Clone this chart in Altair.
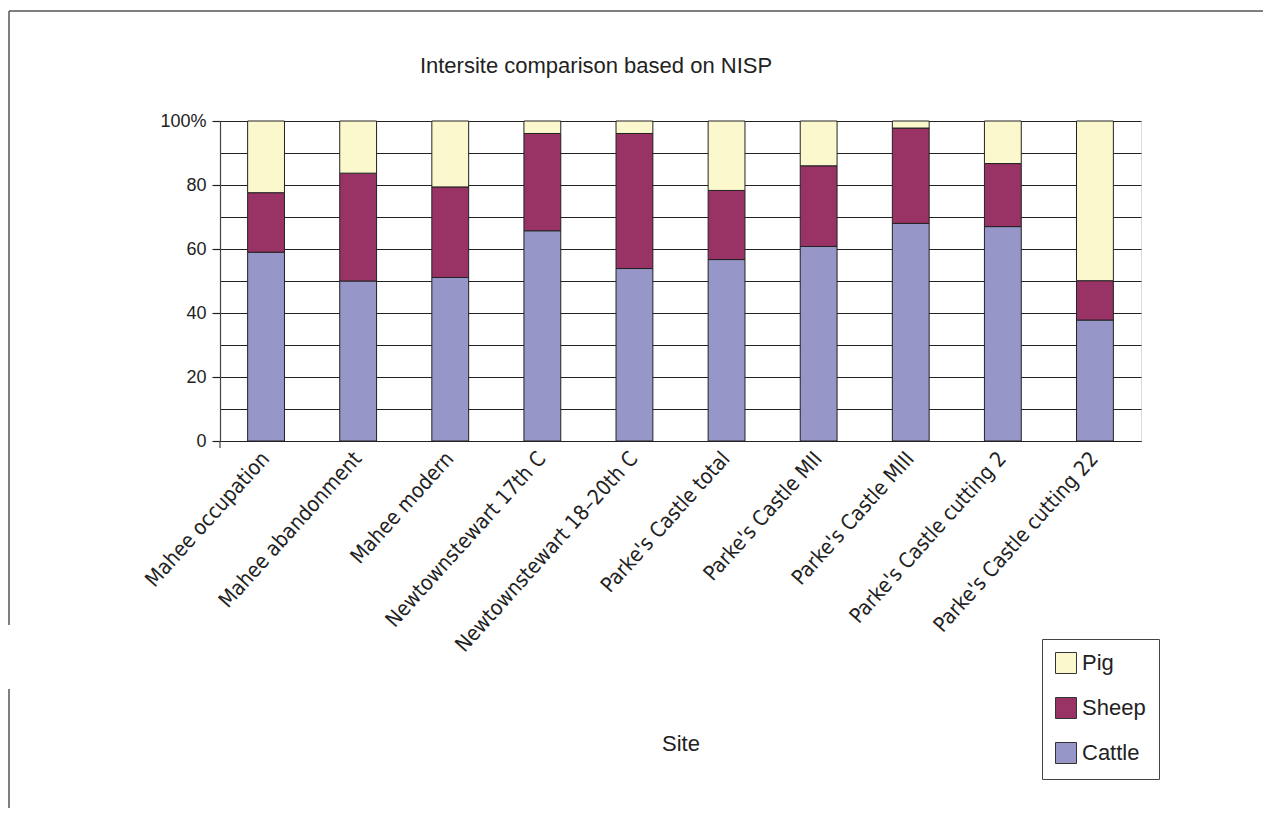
import altair as alt
import pandas as pd

title_text = "Intersite comparison based on NISP"
sites = ["Mahee occupation", "Mahee abandonment", "Mahee modern",
         "Newtownstewart 17th C", "Newtownstewart 18–20th C",
         "Parke's Castle total", "Parke's Castle MII", "Parke's Castle MIII",
         "Parke's Castle cutting 2", "Parke's Castle cutting 22"]
cattle = [59.0, 50.0, 51.1, 65.7, 53.9, 56.7, 60.8, 68.0, 67.0, 37.8]
sheep = [18.6, 33.7, 28.3, 30.4, 42.2, 21.6, 25.2, 29.8, 19.7, 12.3]
pig = [22.4, 16.3, 20.6, 3.9, 3.9, 21.7, 14.0, 2.2, 13.3, 49.9]
species = ["Pig", "Sheep", "Cattle"]
colors = ["#FCF8CD", "#993366", "#9696C8"]
y_ticks = [0, 10, 20, 30, 40, 50, 60, 70, 80, 90, 100]

rows = []
for i, s in enumerate(sites):
    for sp, vals, order in (("Cattle", cattle, 0), ("Sheep", sheep, 1), ("Pig", pig, 2)):
        rows.append({"Site": s, "Species": sp, "Percent": vals[i], "order": order})
df = pd.DataFrame(rows)

FONT = "Liberation Sans, Arial, sans-serif"
NARROW = "Liberation Sans Narrow, DejaVu Sans Condensed, Liberation Sans, sans-serif"
INK = "#222222"

bars = alt.Chart(df).mark_bar(stroke=INK, strokeWidth=1).encode(
    x=alt.X("Site:N", sort=sites,
            scale=alt.Scale(paddingInner=0.6, paddingOuter=0.3),
            axis=alt.Axis(title="Site", labelAngle=-48, labelAlign="right",
                          labelBaseline="middle", labelPadding=14,
                          labelFont=NARROW, labelFontSize=21, labelColor=INK,
                          labelLimit=0, labelOverlap=False,
                          ticks=False, grid=False, domainColor=INK, domainWidth=1.2,
                          titleFont=FONT, titleFontSize=22, titleFontWeight="normal",
                          titleColor=INK, titleY=309, titleBaseline="alphabetic")),
    y=alt.Y("Percent:Q", stack="zero",
            scale=alt.Scale(domain=[0, 100], nice=False),
            axis=alt.Axis(title=None, values=y_ticks,
                          labelExpr="datum.value % 20 === 0 ? (datum.value === 100 ? '100%' : datum.label) : ''",
                          grid=True, gridColor=INK, gridWidth=1.2, gridOpacity=1,
                          tickSize=8, tickColor=INK, tickWidth=1.2,
                          tickOpacity=alt.condition("datum.value % 20 === 0", alt.value(1), alt.value(0)),
                          domainColor="#444444", domainWidth=1.2,
                          labelPadding=6, labelFont=FONT, labelFontSize=18, labelColor=INK)),
    color=alt.Color("Species:N",
                    scale=alt.Scale(domain=species, range=colors),
                    legend=alt.Legend(title=None, orient="none", legendX=822, legendY=518,
                                      strokeColor="#444444", padding=13,
                                      symbolType="square", symbolSize=441,
                                      symbolStrokeColor="#333333", symbolStrokeWidth=1,
                                      symbolOpacity=1,
                                      labelFont=FONT, labelFontSize=22, labelColor=INK,
                                      labelOffset=5, rowPadding=19)),
    order=alt.Order("order:Q", sort="ascending"),
)

one = pd.DataFrame({"k": [0]})
title_mark = alt.Chart(one).mark_text(
    font=FONT, fontSize=22, color=INK, align="center", baseline="alphabetic"
).encode(x=alt.value(376), y=alt.value(-48), text=alt.value(title_text))
frame_top = alt.Chart(one).mark_rule(color="#555555", strokeWidth=1.5).encode(
    x=alt.value(-211), x2=alt.value(1060), y=alt.value(-110))
frame_left1 = alt.Chart(one).mark_rule(color="#555555", strokeWidth=1.5).encode(
    x=alt.value(-211), y=alt.value(-110), y2=alt.value(504))
frame_left2 = alt.Chart(one).mark_rule(color="#555555", strokeWidth=1.5).encode(
    x=alt.value(-211), y=alt.value(568), y2=alt.value(690))
axis_ext = alt.Chart(one).mark_rule(color="#444444", strokeWidth=1.2).encode(
    x=alt.value(0), y=alt.value(320), y2=alt.value(327))

chart = alt.layer(bars, axis_ext, title_mark, frame_top, frame_left1, frame_left2).properties(
    width=921, height=320,
    autosize=alt.AutoSizeParams(type="none"),
    padding={"left": 212, "top": 113, "right": 122, "bottom": 367},
).configure_view(stroke=None).configure(background="white")

chart.save("out.html", embed_options={"renderer": "svg", "actions": False})
